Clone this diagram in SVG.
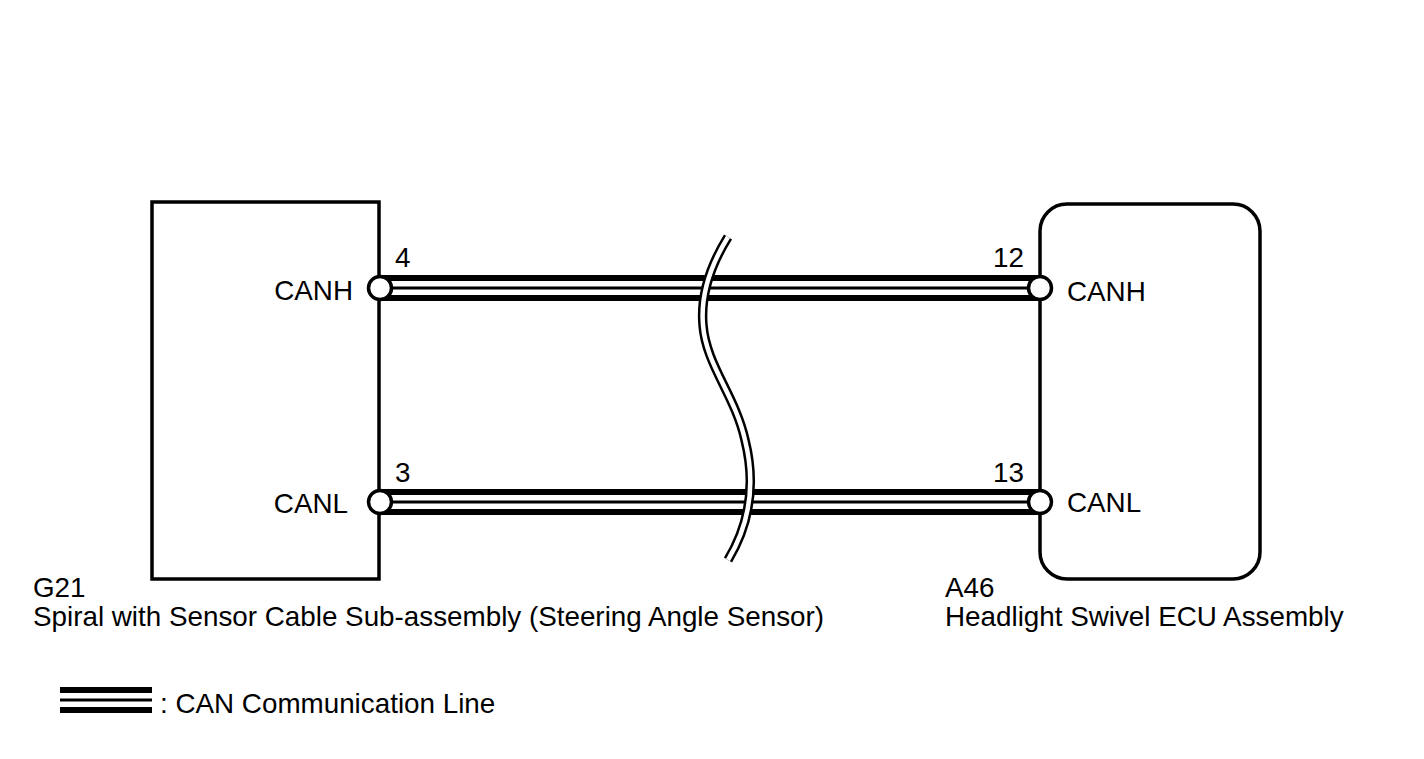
<svg xmlns="http://www.w3.org/2000/svg" width="1424" height="759" viewBox="0 0 1424 759">
<style>
text{font-family:"Liberation Sans",Arial,sans-serif;font-size:27.8px;fill:#000}
.box{fill:none;stroke:#000;stroke-width:3.5}
.w1{stroke:#000;stroke-width:26;fill:none}
.w2{stroke:#fff;stroke-width:14;fill:none}
.w3{stroke:#000;stroke-width:3;fill:none}
.pin{fill:#fff;stroke:#000;stroke-width:3.5}
.sq1{fill:none;stroke:#000;stroke-width:9.5}
.sq2{fill:none;stroke:#fff;stroke-width:4.5}
</style>
<rect width="1424" height="759" fill="#fff"/>
<g id="G21">
<rect class="box" x="152" y="202" width="227" height="377"/>
<text x="353" y="300" text-anchor="end">CANH</text>
<text x="348" y="513" text-anchor="end">CANL</text>
<text x="33" y="597">G21</text>
<text x="33" y="626">Spiral with Sensor Cable Sub-assembly (Steering Angle Sensor)</text>
</g>
<g id="A46">
<rect class="box" x="1040" y="204" width="220" height="375" rx="27" ry="27"/>
<text x="1067" y="301">CANH</text>
<text x="1067" y="512">CANL</text>
<text x="945" y="597">A46</text>
<text x="945" y="626">Headlight Swivel ECU Assembly</text>
</g>
<g id="connectors">
<path class="w1" d="M380 288H1040M380 502H1040"/>
<path class="w2" d="M380 288H1040M380 502H1040"/>
<path class="w3" d="M380 288H1040M380 502H1040"/>
<path class="sq1" d="M728 237C715 258 700 290 703 325C706 365 735 395 745 440C755 480 752 520 728 560"/>
<path class="sq2" d="M728 237C715 258 700 290 703 325C706 365 735 395 745 440C755 480 752 520 728 560"/>
<circle class="pin" cx="380" cy="288" r="11.5"/>
<circle class="pin" cx="380" cy="502" r="11.5"/>
<circle class="pin" cx="1040" cy="288" r="11.5"/>
<circle class="pin" cx="1040" cy="502" r="11.5"/>
<text x="395" y="267">4</text>
<text x="395" y="482">3</text>
<text x="1024" y="267" text-anchor="end">12</text>
<text x="1024" y="482" text-anchor="end">13</text>
</g>
<g id="legend">
<path class="w1" d="M60 700H152"/>
<path class="w2" d="M60 700H152"/>
<path class="w3" d="M60 700H152"/>
<text x="160" y="713">: CAN Communication Line</text>
</g>
</svg>
